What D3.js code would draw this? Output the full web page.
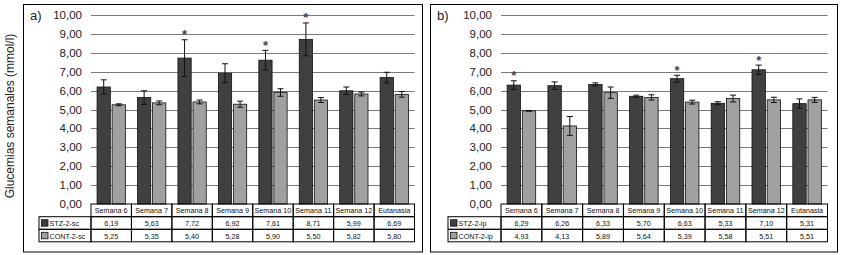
<!DOCTYPE html>
<html>
<head>
<meta charset="utf-8">
<script src="https://cdn.jsdelivr.net/npm/d3@7"></script>
<style>
  body { margin: 0; background: #fff; }
  svg { font-family: "Liberation Sans", Arial, sans-serif; }
</style>
</head>
<body>
<svg id="chart" width="841" height="255"></svg>
<script>
// categories shared by both panels
var weeks = ["Semana 6", "Semana 7", "Semana 8", "Semana 9", "Semana 10", "Semana 11", "Semana 12", "Eutanasia"]
var yTicks = [0, 1, 2, 3, 4, 5, 6, 7, 8, 9, 10]

// panel a (sc)
var stzSc = [6.19, 5.63, 7.72, 6.92, 7.61, 8.71, 5.99, 6.69]
var stzScErr = [0.38, 0.36, 0.97, 0.5, 0.52, 0.87, 0.2, 0.28]
var contSc = [5.25, 5.35, 5.40, 5.28, 5.90, 5.50, 5.82, 5.80]
var contScErr = [0.05, 0.1, 0.1, 0.16, 0.2, 0.13, 0.1, 0.15]
var starsSc = [false, false, true, false, true, true, false, false]

// panel b (ip)
var stzIp = [6.29, 6.26, 6.33, 5.70, 6.63, 5.33, 7.10, 5.31]
var stzIpErr = [0.23, 0.2, 0.08, 0.06, 0.18, 0.08, 0.25, 0.25]
var contIp = [4.93, 4.13, 5.89, 5.64, 5.39, 5.58, 5.51, 5.51]
var contIpErr = [0.02, 0.5, 0.3, 0.14, 0.1, 0.18, 0.14, 0.13]
var starsIp = [true, false, false, false, true, false, true, false]

var svg = d3.select("#chart")
var fmt = v => v.toFixed(2).replace(".", ",")

var y = d3.scaleLinear().domain([0, 10]).range([204, 15])

// y axis title
svg.append("text")
  .attr("transform", "translate(14,116)rotate(-90)")
  .attr("text-anchor", "middle")
  .style("font-size", "12px")
  .attr("fill", "#222")
  .text("Glucemias semanales (mmol/l)")

function drawPanel(p) {
  // outer frame
  svg.append("rect")
    .attr("x", p.boxL + 0.5).attr("y", 4.5)
    .attr("width", p.boxR - p.boxL).attr("height", 247.5)
    .attr("fill", "none").attr("stroke", "#000").attr("stroke-width", 1)

  svg.append("text")
    .attr("x", p.boxL + 7).attr("y", 20)
    .style("font-size", "13px").attr("fill", "#222")
    .text(p.tag)

  var x0 = d3.scaleBand().domain(weeks).range([p.plotL, p.plotR])
  var bw = x0.bandwidth()
  var x1 = d3.scaleBand().domain([0, 1]).range([bw * 0.15, bw * 0.85]).paddingInner(0.12)

  // gridlines
  svg.append("g").selectAll("line")
    .data(yTicks.filter(t => t > 0))
    .enter().append("line")
    .attr("x1", p.plotL).attr("x2", p.plotR)
    .attr("y1", d => Math.round(y(d)) + 0.5).attr("y2", d => Math.round(y(d)) + 0.5)
    .attr("stroke", "#7a7a7a").attr("stroke-width", 1)

  // tick labels
  svg.append("g").selectAll("text")
    .data(yTicks)
    .enter().append("text")
    .attr("x", p.plotL - 9)
    .attr("y", d => y(d) + 4)
    .attr("text-anchor", "end")
    .style("font-size", "11.5px").attr("fill", "#222")
    .text(d => fmt(d))

  var series = [
    {vals: p.stz, err: p.stzErr, color: "#404040"},
    {vals: p.cont, err: p.contErr, color: "#a0a0a2"}
  ]

  series.forEach(function(s, si) {
    var g = svg.append("g")
    g.selectAll("rect")
      .data(s.vals)
      .enter().append("rect")
      .attr("x", (d, i) => x0(weeks[i]) + x1(si))
      .attr("y", d => y(d))
      .attr("width", x1.bandwidth())
      .attr("height", d => y(0) - y(d))
      .attr("fill", s.color)
      .attr("stroke", "#111").attr("stroke-width", 0.8)

    // error bars
    s.vals.forEach(function(v, i) {
      var cx = x0(weeks[i]) + x1(si) + x1.bandwidth() / 2
      var top = y(v + s.err[i]), bot = y(v - s.err[i])
      g.append("line").attr("x1", cx).attr("x2", cx).attr("y1", top).attr("y2", bot)
        .attr("stroke", "#111").attr("stroke-width", 1)
      g.append("line").attr("x1", cx - 3).attr("x2", cx + 3).attr("y1", top).attr("y2", top)
        .attr("stroke", "#111").attr("stroke-width", 1)
      g.append("line").attr("x1", cx - 3).attr("x2", cx + 3).attr("y1", bot).attr("y2", bot)
        .attr("stroke", "#111").attr("stroke-width", 1)
    })
  })

  // asterisks over STZ bars
  p.stars.forEach(function(st, i) {
    if (!st) return
    var cx = x0(weeks[i]) + x1(0) + x1.bandwidth() / 2
    svg.append("text")
      .attr("x", cx).attr("y", y(p.stz[i] + p.stzErr[i]) - 0.5)
      .attr("text-anchor", "middle")
      .style("font-size", "13px").style("font-weight", "bold").attr("fill", "#4a4050")
      .text("*")
  })

  // data table
  var rowTop = [204, 216.7, 229.3, 241.8]
  var t = svg.append("g").attr("stroke", "#000").attr("stroke-width", 1).attr("fill", "none")
  // header row (weeks)
  weeks.forEach(function(w, i) {
    t.append("rect").attr("x", x0(w)).attr("y", rowTop[0]).attr("width", bw).attr("height", rowTop[1] - rowTop[0])
  })
  // value rows incl. legend column
  for (var r = 1; r <= 2; r++) {
    t.append("rect").attr("x", p.legL).attr("y", rowTop[r]).attr("width", p.plotL - p.legL).attr("height", rowTop[r + 1] - rowTop[r])
    weeks.forEach(function(w) {
      t.append("rect").attr("x", x0(w)).attr("y", rowTop[r]).attr("width", bw).attr("height", rowTop[r + 1] - rowTop[r])
    })
  }

  svg.append("g").selectAll("text")
    .data(weeks).enter().append("text")
    .attr("x", d => x0(d) + bw / 2).attr("y", rowTop[0] + 9.2)
    .attr("text-anchor", "middle")
    .style("font-size", "7.2px").attr("fill", "#111")
    .text(d => d)

  var rows = [{name: p.names[0], vals: p.stz, color: "#404040"}, {name: p.names[1], vals: p.cont, color: "#a0a0a2"}]
  rows.forEach(function(row, ri) {
    var ty = rowTop[ri + 1] + 9.2
    svg.append("rect")
      .attr("x", p.legL + 2.5).attr("y", rowTop[ri + 1] + 3)
      .attr("width", 6.5).attr("height", 6.5)
      .attr("fill", row.color).attr("stroke", "#111").attr("stroke-width", 0.8)
    svg.append("text")
      .attr("x", p.legL + 10.5).attr("y", ty)
      .style("font-size", "7.2px").attr("fill", "#111")
      .text(row.name)
    svg.append("g").selectAll("text")
      .data(row.vals).enter().append("text")
      .attr("x", (d, i) => x0(weeks[i]) + bw / 2).attr("y", ty)
      .attr("text-anchor", "middle")
      .style("font-size", "7.2px").attr("fill", "#111")
      .text(d => fmt(d))
  })
}

drawPanel({tag: "a)", boxL: 23, boxR: 422, plotL: 91, plotR: 414.5, legL: 39,
  stz: stzSc, stzErr: stzScErr, cont: contSc, contErr: contScErr, stars: starsSc,
  names: ["STZ-2-sc", "CONT-2-sc"]})
drawPanel({tag: "b)", boxL: 430, boxR: 837, plotL: 501, plotR: 827.5, legL: 448,
  stz: stzIp, stzErr: stzIpErr, cont: contIp, contErr: contIpErr, stars: starsIp,
  names: ["STZ-2-ip", "CONT-2-ip"]})
</script>
</body>
</html>
